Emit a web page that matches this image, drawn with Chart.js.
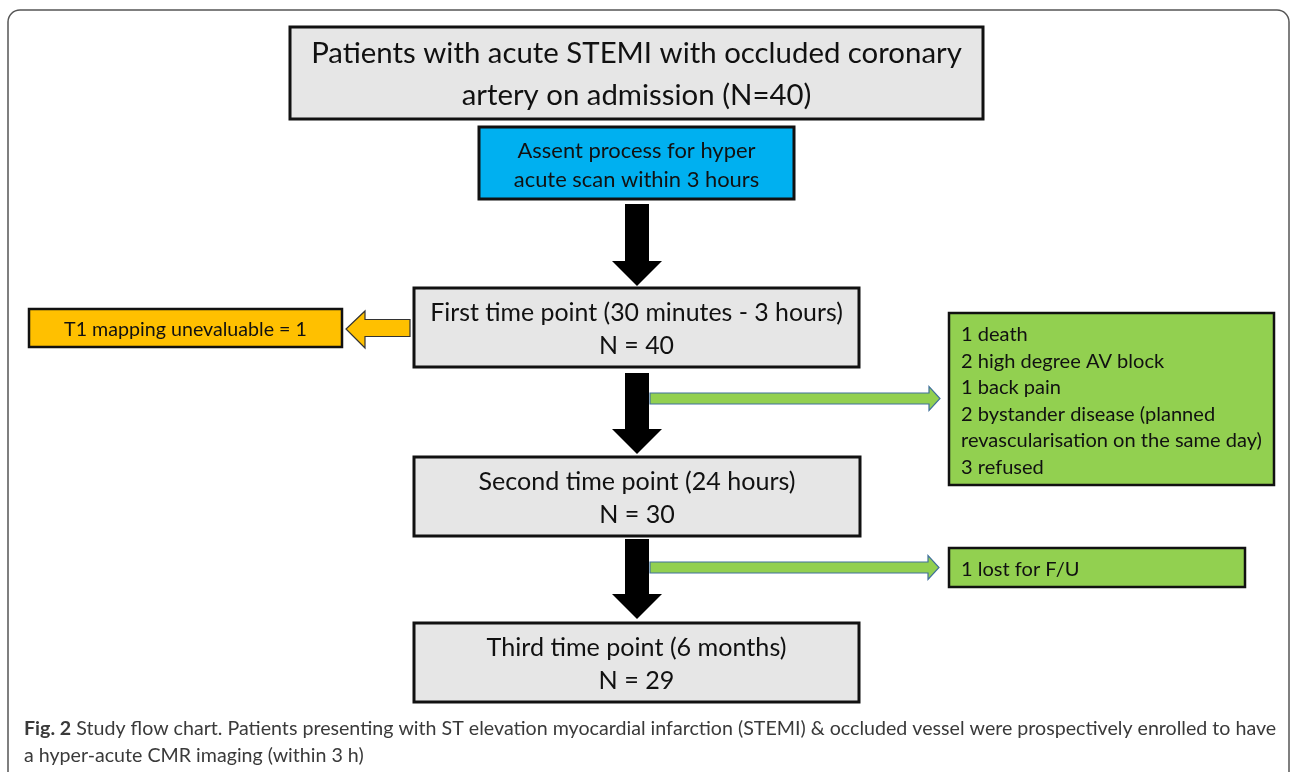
<!DOCTYPE html>
<html lang="en">
<head>
    <meta charset="UTF-8">
    <title>Study flow chart</title>
    <script src="https://cdn.jsdelivr.net/npm/chart.js"></script>
    <style>
        html, body { margin: 0; padding: 0; background: #fff; }
        canvas { display: block; }
    </style>
</head>
<body>
<canvas id="flowChart" width="1290" height="772"></canvas>

<script>
    // text of the boxes
    var admissionLines = ["Patients with acute STEMI with occluded coronary", "artery on admission (N=40)"];
    var assentLines = ["Assent process for hyper", "acute scan within 3 hours"];
    var stageLabels = ["First time point (30 minutes - 3 hours)", "Second time point (24 hours)", "Third time point (6 months)"];
    var stageN = [40, 30, 29];
    var unevaluableLine = "T1 mapping unevaluable = 1";
    var exclusionLines1 = ["1 death", "2 high degree AV block", "1 back pain", "2 bystander disease (planned",
        "revascularisation on the same day)", "3 refused"];
    var exclusionLines2 = ["1 lost for F/U"];
    var captionBold = "Fig. 2";
    var captionLines = [" Study flow chart. Patients presenting with ST elevation myocardial infarction (STEMI) & occluded vessel were prospectively enrolled to have",
        "a hyper-acute CMR imaging (within 3 h)"];

    // layout, in page units [left, top, right, bottom]
    var admissionBox = [290, 27, 983, 119];
    var assentBox = [479, 127, 794, 199];
    var stageBoxes = [[414, 288, 859, 367], [414, 457, 860, 536], [414, 623, 859, 702]];
    var unevaluableBox = [29, 309, 342, 347];
    var exclusionBox1 = [949, 313, 1274, 485];
    var exclusionBox2 = [949, 548, 1245, 587];
    // down arrows: [top, headStart, tip]
    var downArrows = [[204, 261, 286], [373, 429, 454], [539, 594, 619]];
    // side arrows: [y centre, tip x]
    var sideArrows = [[398.5, 940], [567.5, 939]];

    var FONT = "Lato, 'Open Sans', sans-serif";
    var NUDGE = 2; // Lato sits a little high with a 'middle' baseline

    function fitSize(ctx, text, weight, targetW) {
        ctx.font = weight + " 100px " + FONT;
        return 100 * targetW / ctx.measureText(text).width;
    }

    var flowPlugin = {
        id: 'flow',
        afterDraw: function (chart) {
            var ctx = chart.ctx;
            var xs = chart.scales.x, ys = chart.scales.y;
            var px = function (v) { return xs.getPixelForValue(v); };
            var py = function (v) { return ys.getPixelForValue(v); };

            function box(b, fill, lw) {
                ctx.save();
                ctx.fillStyle = fill;
                ctx.strokeStyle = '#111';
                ctx.lineWidth = lw || 2.5;
                ctx.fillRect(px(b[0]), py(b[1]), px(b[2]) - px(b[0]), py(b[3]) - py(b[1]));
                ctx.strokeRect(px(b[0]), py(b[1]), px(b[2]) - px(b[0]), py(b[3]) - py(b[1]));
                ctx.restore();
            }

            function centredText(b, lines, size, gap) {
                ctx.save();
                ctx.fillStyle = '#111';
                ctx.font = size + "px " + FONT;
                ctx.textAlign = 'center';
                ctx.textBaseline = 'middle';
                var cx = (b[0] + b[2]) / 2, cy = (b[1] + b[3]) / 2 + NUDGE;
                lines.forEach(function (line, i) {
                    var y = cy + (i - (lines.length - 1) / 2) * gap;
                    ctx.fillText(line, px(cx), py(y));
                });
                ctx.restore();
            }

            function leftText(b, lines, x, size, gap) {
                ctx.save();
                ctx.fillStyle = '#111';
                ctx.font = size + "px " + FONT;
                ctx.textAlign = 'left';
                ctx.textBaseline = 'middle';
                var cy = (b[1] + b[3]) / 2 + NUDGE;
                lines.forEach(function (line, i) {
                    var y = cy + (i - (lines.length - 1) / 2) * gap;
                    ctx.fillText(line, px(x), py(y));
                });
                ctx.restore();
            }

            function poly(points, fill, stroke, lw) {
                ctx.save();
                ctx.beginPath();
                points.forEach(function (p, i) {
                    if (i === 0) ctx.moveTo(px(p[0]), py(p[1]));
                    else ctx.lineTo(px(p[0]), py(p[1]));
                });
                ctx.closePath();
                ctx.fillStyle = fill;
                ctx.fill();
                if (stroke) {
                    ctx.strokeStyle = stroke;
                    ctx.lineWidth = lw || 1;
                    ctx.stroke();
                }
                ctx.restore();
            }

            // outer frame
            ctx.save();
            ctx.strokeStyle = '#555';
            ctx.lineWidth = 1.5;
            ctx.beginPath();
            ctx.roundRect(px(8), py(10), px(1289) - px(8), py(800) - py(10), 12);
            ctx.stroke();
            ctx.restore();

            // black down arrows
            downArrows.forEach(function (a) {
                poly([[625, a[0]], [649, a[0]], [649, a[1]], [662, a[1]], [637, a[2]],
                    [612, a[1]], [625, a[1]]], '#000');
            });

            // green side arrows
            sideArrows.forEach(function (a) {
                var y = a[0], tip = a[1], base = tip - 11;
                poly([[650, y - 5.5], [base, y - 5.5], [base, y - 12], [tip, y], [base, y + 12],
                    [base, y + 5.5], [650, y + 5.5]], '#92d050', '#41719c', 1.2);
            });

            // orange arrow to the left
            poly([[410, 319.5], [365, 319.5], [365, 311], [346, 329], [365, 348], [365, 336.5],
                [410, 336.5]], '#ffc000', '#333', 1.2);

            // boxes
            box(admissionBox, '#e6e6e6', 3);
            box(assentBox, '#00b0f0', 3);
            stageBoxes.forEach(function (b) { box(b, '#e6e6e6', 3); });
            box(unevaluableBox, '#ffc000', 2.5);
            box(exclusionBox1, '#92d050', 2.5);
            box(exclusionBox2, '#92d050', 2.5);

            // texts
            centredText(admissionBox, admissionLines, fitSize(ctx, admissionLines[0], 'normal', 651), 42);
            centredText(assentBox, assentLines, fitSize(ctx, assentLines[0], 'normal', 238), 29);
            var stageW = [413, 317, 300];
            stageBoxes.forEach(function (b, i) {
                centredText(b, [stageLabels[i], 'N = ' + stageN[i]],
                    fitSize(ctx, stageLabels[i], 'normal', stageW[i]), 33);
            });
            centredText(unevaluableBox, [unevaluableLine], fitSize(ctx, unevaluableLine, 'normal', 243), 0);
            var exSize = fitSize(ctx, exclusionLines1[4], 'normal', 301);
            leftText(exclusionBox1, exclusionLines1, 961, exSize, 26.6);
            leftText(exclusionBox2, exclusionLines2, 961, exSize, 0);

            // caption
            ctx.save();
            ctx.fillStyle = '#3a3a3a';
            ctx.textAlign = 'left';
            ctx.textBaseline = 'middle';
            ctx.font = "bold 100px " + FONT;
            var wb = ctx.measureText(captionBold).width;
            ctx.font = "100px " + FONT;
            var wr = ctx.measureText(captionLines[0]).width;
            var cs = 100 * (1277 - 24) / (wb + wr);
            ctx.font = "bold " + cs + "px " + FONT;
            ctx.fillText(captionBold, px(24), py(729));
            var bw = ctx.measureText(captionBold).width;
            ctx.font = cs + "px " + FONT;
            ctx.fillText(captionLines[0], px(24) + bw, py(729));
            ctx.fillText(captionLines[1], px(24), py(756));
            ctx.restore();
        }
    };

    var allBoxes = [admissionBox, assentBox].concat(stageBoxes, [unevaluableBox, exclusionBox1, exclusionBox2]);
    var centres = allBoxes.map(function (b) { return { x: (b[0] + b[2]) / 2, y: (b[1] + b[3]) / 2 }; });

    var ctx = document.getElementById('flowChart').getContext('2d');
    var flowChart = new Chart(ctx, {
        type: 'scatter',
        data: {
            datasets: [{
                data: centres,
                pointRadius: 0,
                pointHoverRadius: 0
            }]
        },
        options: {
            responsive: false,
            animation: false,
            layout: { padding: 0 },
            plugins: {
                legend: { display: false },
                tooltip: { enabled: false }
            },
            scales: {
                x: { type: 'linear', min: 0, max: 1290, display: false },
                y: { type: 'linear', min: 0, max: 772, reverse: true, display: false }
            }
        },
        plugins: [flowPlugin]
    });
</script>
</body>
</html>
